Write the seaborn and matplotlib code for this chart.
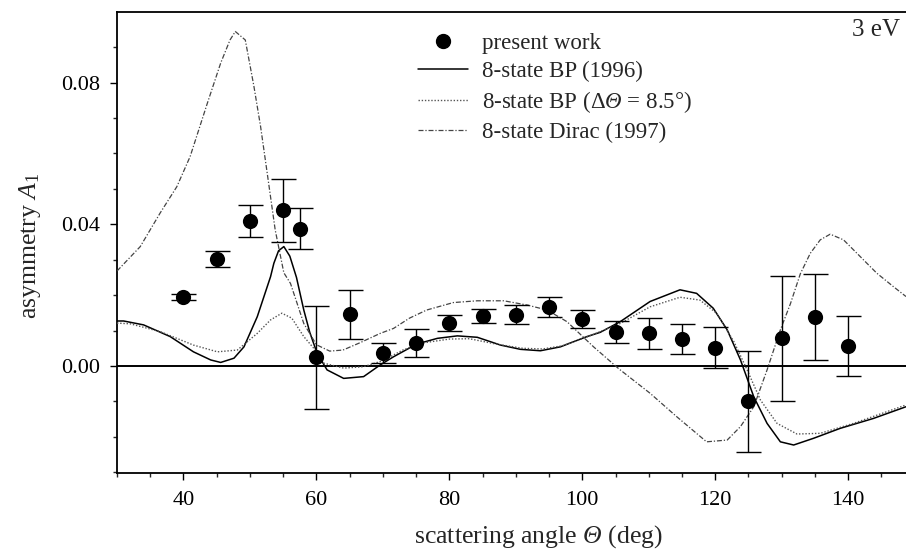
import matplotlib
matplotlib.use("Agg")
import matplotlib.pyplot as plt
import seaborn as sns
import numpy as np
from matplotlib.lines import Line2D
from matplotlib.ticker import MultipleLocator

# ---------------- data ----------------
exp_angle = [40, 45, 50, 55, 57.5, 60, 65, 70, 75, 80, 85, 90, 95, 100, 105, 110, 115, 120, 125, 130, 135, 140]
exp_a1 = [0.0195, 0.0301, 0.0409, 0.0440, 0.0388, 0.0025, 0.0146, 0.0036, 0.0064, 0.0122, 0.0141, 0.0145,
          0.0167, 0.0132, 0.0096, 0.0092, 0.0076, 0.0051, -0.0100, 0.0078, 0.0139, 0.0056]
exp_err = [0.0008, 0.0023, 0.0045, 0.0089, 0.0058, 0.0145, 0.0069, 0.0028, 0.0040, 0.0023, 0.0020, 0.0027,
           0.0028, 0.0026, 0.0030, 0.0044, 0.0042, 0.0058, 0.0142, 0.0177, 0.0122, 0.0084]

bp_angle = [30.0, 31.0, 34.0, 38.0, 41.5, 44.1, 45.6, 47.6, 49.1, 51.1, 53.1, 53.6, 54.3, 55.1, 56.0, 57.0,
            58.1, 59.0, 60.1, 61.6, 64.1, 67.1, 69.6, 71.6, 75.1, 78.2, 81.2, 84.2, 87.7, 90.7, 93.7, 96.7,
            100.7, 102.7, 105.7, 110.2, 114.7, 117.2, 119.7, 121.8, 123.8, 125.8, 127.8, 129.8, 131.8,
            134.8, 138.8, 143.8, 148.7]
bp_a1 = [0.0127, 0.0127, 0.0116, 0.0083, 0.0040, 0.0017, 0.0010, 0.0022, 0.0054, 0.0139, 0.0252, 0.0290,
         0.0325, 0.0337, 0.0310, 0.0250, 0.0158, 0.0095, 0.0036, -0.0011, -0.0035, -0.0030, 0.0003, 0.0026,
         0.0062, 0.0078, 0.0085, 0.0081, 0.0059, 0.0047, 0.0043, 0.0054, 0.0083, 0.0095, 0.0125, 0.0182,
         0.0215, 0.0205, 0.0163, 0.0102, 0.0017, -0.0087, -0.0162, -0.0214, -0.0223, -0.0204, -0.0176,
         -0.0148, -0.0115]

bps_angle = [30.0, 32.0, 36.5, 41.5, 45.1, 48.1, 51.1, 53.1, 54.8, 56.3, 58.1, 59.6, 61.1, 64.1, 67.1, 70.0,
             73.0, 76.0, 80.0, 83.0, 87.0, 91.0, 94.0, 97.0, 100.7, 105.7, 110.2, 114.7, 117.7, 120.2, 122.8,
             124.8, 126.8, 129.3, 132.3, 135.8, 140.8, 148.7]
bps_a1 = [0.0121, 0.0119, 0.0097, 0.0059, 0.0040, 0.0045, 0.0092, 0.0130, 0.0149, 0.0135, 0.0083, 0.0050,
          0.0008, -0.0006, -0.0002, 0.0015, 0.0045, 0.0065, 0.0076, 0.0077, 0.0062, 0.0050, 0.0048, 0.0057,
          0.0082, 0.0120, 0.0167, 0.0194, 0.0186, 0.0149, 0.0069, -0.0011, -0.0096, -0.0162, -0.0192,
          -0.0190, -0.0162, -0.0110]

dirac_angle = [30.0, 33.5, 36.5, 39.0, 41.0, 43.6, 45.6, 47.0, 47.8, 49.3, 50.6, 51.6, 52.6, 53.8, 55.1, 56.1,
               58.1, 60.0, 62.0, 64.0, 66.6, 69.6, 71.6, 74.0, 76.6, 80.6, 84.2, 88.2, 91.7, 94.7, 97.7, 101.7,
               105.5, 110.2, 114.2, 118.7, 121.8, 123.8, 125.8, 127.8, 129.8, 131.3, 132.8, 134.3, 135.8, 137.3,
               139.3, 141.8, 144.3, 146.8, 148.7]
dirac_a1 = [0.0268, 0.0337, 0.0432, 0.0506, 0.0591, 0.0742, 0.0855, 0.0920, 0.0944, 0.0920, 0.0789, 0.0676,
            0.0544, 0.0384, 0.0263, 0.0233, 0.0120, 0.0060, 0.0042, 0.0045, 0.0066, 0.0092, 0.0106, 0.0135,
            0.0158, 0.0179, 0.0184, 0.0184, 0.0172, 0.0158, 0.0125, 0.0054, -0.0008, -0.0077, -0.0143,
            -0.0214, -0.0209, -0.0171, -0.0115, -0.0011, 0.0102, 0.0175, 0.0260, 0.0318, 0.0356, 0.0372,
            0.0356, 0.0309, 0.0262, 0.0224, 0.0196]

labels = ["present work", "8-state BP (1996)", r"8-state BP ($\mathrm{\Delta}\mathsf{\Theta}$ = 8.5°)",
          "8-state Dirac (1997)"]
x_major = [40, 60, 80, 100, 120, 140]
y_major = [0.00, 0.04, 0.08]

# ---------------- style ----------------
sns.set_theme(style="white")
plt.rcParams["font.family"] = ["Liberation Serif", "DejaVu Serif"]
plt.rcParams["mathtext.fontset"] = "custom"
plt.rcParams["mathtext.rm"] = "Liberation Serif"
plt.rcParams["mathtext.it"] = "Liberation Serif:italic"
plt.rcParams["mathtext.sf"] = "Liberation Serif:italic"   # used for italic capital Greek
plt.rcParams["mathtext.bf"] = "Liberation Serif:bold"

fig = plt.figure(figsize=(9.06, 5.54), dpi=100)
ax = fig.add_axes([117 / 906, 81 / 554, (906 - 117) / 906, 461 / 554])

ax.axhline(0, color="black", lw=1.4, zorder=1)

sns.lineplot(x=bp_angle, y=bp_a1, ax=ax, color="black", lw=1.1, sort=False, estimator=None, zorder=3)
sns.lineplot(x=bps_angle, y=bps_a1, ax=ax, color="#555555", lw=1.0, sort=False, estimator=None,
             linestyle=(0, (1, 1.3)), zorder=3)
sns.lineplot(x=dirac_angle, y=dirac_a1, ax=ax, color="#444444", lw=0.9, sort=False, estimator=None,
             linestyle=(0, (4, 1.5, 1, 1.5)), zorder=3)

ax.errorbar(exp_angle, exp_a1, yerr=exp_err, fmt="none", ecolor="black", elinewidth=1.0,
            capsize=9, capthick=1.0, zorder=4)
sns.scatterplot(x=exp_angle, y=exp_a1, ax=ax, color="black", s=120, edgecolor="black", linewidth=0, zorder=5)

ax.set_xlim(30, 148.7)
ax.set_ylim(-0.0302, 0.0999)
ax.set_xticks(x_major)
ax.set_yticks(y_major)
ax.set_yticklabels([f"{v:.2f}" for v in y_major])
ax.xaxis.set_minor_locator(MultipleLocator(5))
ax.yaxis.set_minor_locator(MultipleLocator(0.01))
ax.tick_params(axis="both", which="major", direction="out", length=5, width=1.0, labelsize=16,
               colors="black", bottom=True, left=True)
ax.tick_params(axis="both", which="minor", direction="out", length=3, width=1.0, bottom=True, left=True)
ax.tick_params(axis="x", which="major", pad=8)
ax.tick_params(axis="y", which="major", pad=7)

for side in ["left", "bottom", "top"]:
    ax.spines[side].set_visible(True)
    ax.spines[side].set_color("black")
    ax.spines[side].set_linewidth(1.3)
ax.spines["right"].set_visible(False)

ax.set_xlabel(r"scattering angle $\mathsf{\Theta}$ (deg)", fontsize=18.5)
ax.xaxis.set_label_coords(0.534, -0.137)
ax.xaxis.label.set_verticalalignment("center")
ax.set_ylabel(r"asymmetry $A_1$", fontsize=18.5)
ax.yaxis.set_label_coords(-0.110, 0.492)
ax.yaxis.label.set_verticalalignment("center")

ax.text(0.992, 0.961, "3 eV", transform=ax.transAxes, ha="right", va="center", fontsize=18)

handles = [
    Line2D([], [], marker="o", color="black", linestyle="none", markersize=10),
    Line2D([], [], color="black", lw=1.1),
    Line2D([], [], color="#555555", lw=1.0, linestyle=(0, (1, 1.3))),
    Line2D([], [], color="#444444", lw=0.9, linestyle=(0, (4, 1.5, 1, 1.5))),
]
ax.legend(handles, labels, loc="upper left", bbox_to_anchor=(0.3815, 0.955), frameon=False,
          fontsize=16.5, handlelength=2.2, handletextpad=0.6, labelspacing=0.3, borderpad=0,
          borderaxespad=0)

fig.savefig("out.png", dpi=100)
